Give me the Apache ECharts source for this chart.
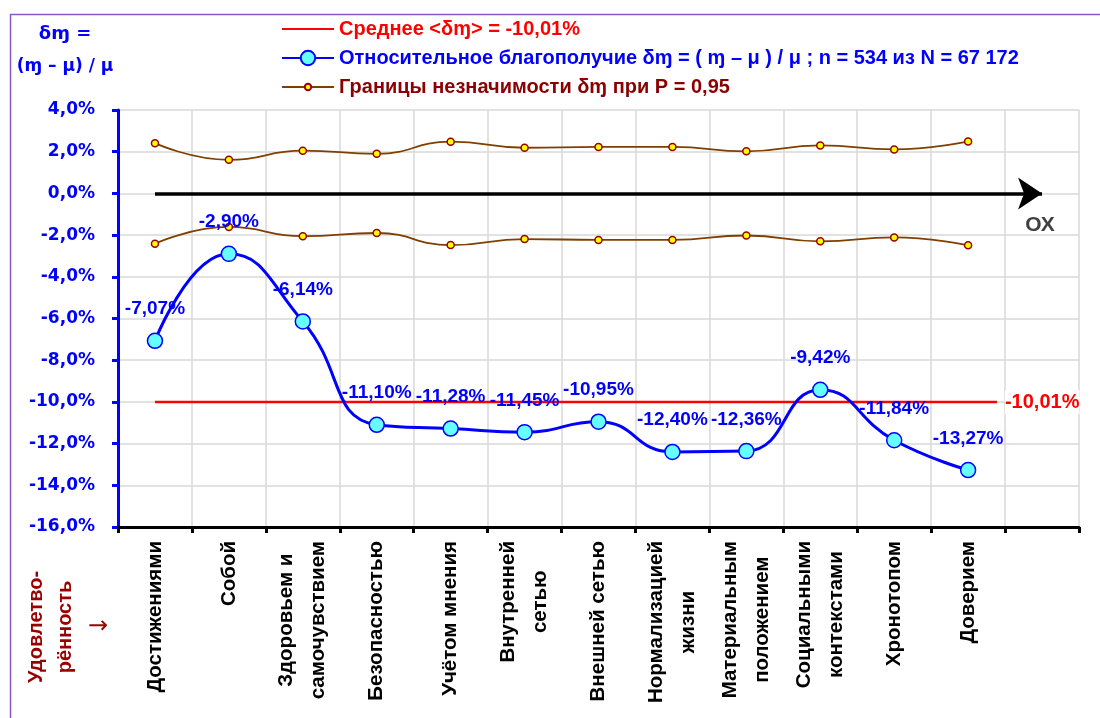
<!DOCTYPE html>
<html><head><meta charset="utf-8">
<script src="https://cdn.jsdelivr.net/npm/echarts@6/dist/echarts.min.js"></script>
<style>html,body{margin:0;padding:0;background:#fff}#c{width:1100px;height:718px}</style>
</head><body><div id="c"></div>
<script>
var categories = ['Достижениями','Собой','Здоровьем и\nсамочувствием','Безопасностью','Учётом мнения','Внутренней\nсетью','Внешней сетью','Нормализацией\nжизни','Материальным\nположением','Социальными\nконтекстами','Хронотопом','Доверием',''];
var wellbeing = [-7.07,-2.90,-6.14,-11.10,-11.28,-11.45,-10.95,-12.40,-12.36,-9.42,-11.84,-13.27];
var upperBound = [2.41,1.61,2.05,1.90,2.48,2.19,2.23,2.23,2.02,2.30,2.11,2.49];
var lowerBound = [-2.41,-1.61,-2.05,-1.90,-2.48,-2.19,-2.23,-2.23,-2.02,-2.30,-2.11,-2.49];
var meanValue = -10.01;
var meanSpan = [0.5, 11.89];
var axisArrowSpan = [0.5, 12.5];
var yTicks = {min:-16, max:4, interval:2};

var nameMean = 'Среднее <δɱ> = -10,01%';
var nameMain = 'Относительное благополучие δɱ = ( ɱ – μ ) / μ ; n = 534 из N = 67 172';
var nameBounds = 'Границы незначимости δɱ при P = 0,95';

var F = '"Liberation Sans", Arial, sans-serif';
function pct2(v){return v.toFixed(2).replace('.',',')+'%';}

var legendText = {fontFamily:F, fontWeight:'bold', fontSize:20, lineHeight:20};

var chart = echarts.init(document.getElementById('c'), null, {renderer:'canvas'});
chart.setOption({
  animation:false,
  backgroundColor:'#fff',
  textStyle:{fontFamily:F},
  grid:{left:118, top:110, right:21, bottom:191, containLabel:false},
  legend:[{
    orient:'vertical', left:276, top:14, itemWidth:52, itemHeight:18, itemGap:9,
    textStyle:legendText, selectedMode:false,
    data:[
      {name:nameMean, textStyle:{color:'#ff0000'}, itemStyle:{opacity:0}},
      {name:nameMain, textStyle:{color:'#0000ff'}}
    ]
  },{
    orient:'vertical', left:276, top:72, itemWidth:52, itemHeight:8, itemGap:9,
    textStyle:legendText, selectedMode:false,
    data:[
      {name:nameBounds, textStyle:{color:'#8b0000'}}
    ]
  }],
  xAxis:[{
    type:'category', data:categories, boundaryGap:true,
    axisLine:{onZero:false, lineStyle:{color:'#000', width:3}},
    axisTick:{show:true, interval:0, length:6, lineStyle:{color:'#000', width:3}},
    splitLine:{show:true, interval:0, lineStyle:{color:'#d9d9d9', width:1.5}},
    axisLabel:{
      interval:0, rotate:90, margin:14, color:'#000',
      formatter:function(v){return v.split('\n').map(function(l){return '{c|'+l+'}';}).join('\n');},
      rich:{c:{align:'center', fontFamily:F, fontWeight:'bold', fontSize:20.5, lineHeight:32, color:'#000'}}
    }
  },{
    type:'value', min:0, max:13, show:false, position:'top'
  }],
  yAxis:{
    type:'value', min:yTicks.min, max:yTicks.max, interval:yTicks.interval,
    axisLine:{show:true, lineStyle:{color:'#0000ff', width:3}},
    axisTick:{show:true, length:6, lineStyle:{color:'#0000ff', width:3}},
    splitLine:{show:true, lineStyle:{color:'#d9d9d9', width:1.5}},
    axisLabel:{
      margin:23, color:'#0000ff', fontFamily:'"DejaVu Sans", sans-serif', fontWeight:'bold', fontSize:17,
      formatter:function(v){return v.toFixed(1).replace('.',',')+'%';}
    }
  },
  series:[
    {
      name:nameMean, type:'line', xAxisIndex:1, yAxisIndex:0, symbol:'none', silent:true,
      color:'#ff0000', lineStyle:{color:'#ff0000', width:2.5},
      data:[[meanSpan[0], meanValue],[meanSpan[1], meanValue]],
      endLabel:{show:true, formatter:pct2(meanValue), distance:8, color:'#ff0000', fontFamily:F,
        fontWeight:'bold', fontSize:20, backgroundColor:'#fff', padding:[2,0,2,0]},
      markLine:{
        silent:true, symbol:['none','arrow'], symbolSize:24,
        lineStyle:{color:'#000', width:3.5, type:'solid'}, label:{show:false},
        data:[[{coord:[axisArrowSpan[0],0]},{coord:[axisArrowSpan[1],0]}]]
      },
      z:3
    },
    {
      name:nameBounds, type:'line', data:upperBound, smooth:true, symbol:'circle', symbolSize:7,
      color:'#ffff00',
      lineStyle:{color:'#7f3f00', width:1.8},
      itemStyle:{color:'#ffff00', borderColor:'#990000', borderWidth:1.5},
      z:4
    },
    {
      name:nameBounds, type:'line', data:lowerBound, smooth:true, symbol:'circle', symbolSize:7,
      color:'#ffff00',
      lineStyle:{color:'#7f3f00', width:1.8},
      itemStyle:{color:'#ffff00', borderColor:'#990000', borderWidth:1.5},
      z:4
    },
    {
      name:nameMain, type:'line', data:wellbeing, smooth:true, symbol:'circle', symbolSize:15,
      color:'#66ffff',
      lineStyle:{color:'#0000ff', width:3},
      itemStyle:{color:'#66ffff', borderColor:'#0000ff', borderWidth:1.5},
      label:{show:true, position:'top', distance:14, color:'#0000ff', fontFamily:F, fontWeight:'bold', fontSize:19,
        formatter:function(p){return pct2(p.value);}},
      z:5
    }
  ],
  graphic:[
    {type:'rect', left:8, top:12, shape:{x:0,y:0,width:1200,height:800}, style:{fill:'none', stroke:'#8a5ac8', lineWidth:1.5}, silent:true, z:-1},
    {type:'text', x:65, y:34, style:{text:'δɱ =', fill:'#0000ff', font:'bold 18px "DejaVu Sans", sans-serif', textAlign:'center', textVerticalAlign:'middle'}},
    {type:'text', x:65, y:67, style:{text:'(ɱ – μ) / μ', fill:'#0000ff', font:'bold 17px "DejaVu Sans", sans-serif', textAlign:'center', textVerticalAlign:'middle'}},
    {type:'text', x:1040, y:225, style:{text:'ОХ', fill:'#404040', font:'bold 21px "Liberation Sans", Arial, sans-serif', textAlign:'center', textVerticalAlign:'middle'}},
    {type:'text', x:51, y:627, rotation:Math.PI/2, style:{text:'Удовлетво-\nрённость', fill:'#990000', font:'bold 20px "Liberation Sans", Arial, sans-serif', lineHeight:29, textAlign:'center', textVerticalAlign:'middle'}},
    {type:'text', x:98, y:627, style:{text:'→', fill:'#990000', font:'24px "DejaVu Sans", sans-serif', textAlign:'center', textVerticalAlign:'middle'}}
  ]
});
</script></body></html>
